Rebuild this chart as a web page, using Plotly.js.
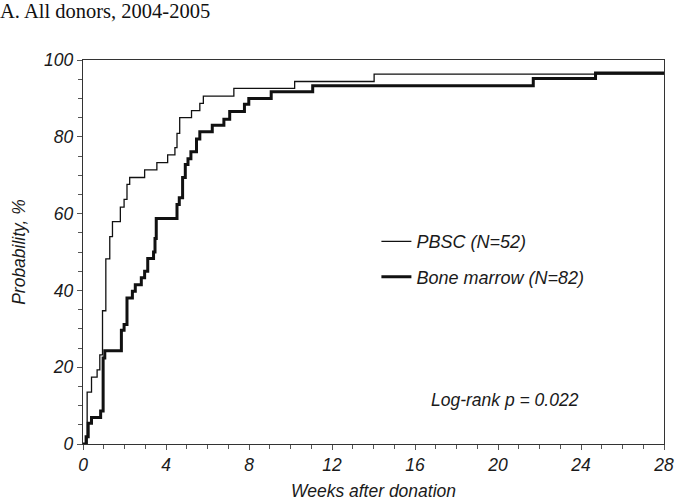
<!DOCTYPE html>
<html>
<head>
<meta charset="utf-8">
<script src="https://cdn.plot.ly/plotly-3.0.1.min.js"></script>
<style>html,body{margin:0;padding:0;background:#fff;}#chart{width:675px;height:503px;}</style>
</head>
<body>
<div id="chart"></div>
<script>
// Cumulative probability (%) by weeks after donation
var pbscWeeks = [0, 0.2, 0.41, 0.68, 0.81, 0.94, 1.1, 1.29, 1.42, 1.8, 1.98, 2.12, 2.25, 2.97, 3.56, 4.08, 4.43, 4.53, 4.66, 5.23, 5.63, 5.8, 7.27, 10.2, 14.03, 28];
var pbscProb  = [0, 13.5, 17.4, 19.3, 23.2, 34.7, 48.2, 54, 57.9, 61.7, 63.7, 67.6, 69.4, 71.4, 73.3, 75.3, 77.2, 80.9, 85, 86.8, 88.7, 90.6, 92.6, 94.4, 96.3, 96.3];

var bmWeeks = [0, 0.15, 0.25, 0.41, 0.85, 0.97, 1.05, 1.85, 1.98, 2.12, 2.38, 2.52, 2.81, 2.97, 3.12, 3.4, 3.47, 3.53, 4.53, 4.64, 4.8, 4.93, 5.06, 5.2, 5.47, 5.63, 6.23, 6.79, 7.07, 7.78, 7.99, 9.07, 11.07, 21.7, 24.7, 28];
var bmProb  = [0, 1.9, 5.4, 6.9, 8.6, 22.4, 24.3, 29.6, 31.1, 38, 39.8, 41.5, 43.3, 45, 48.3, 50, 53.5, 58.7, 62.4, 64.1, 69.4, 72.8, 74.3, 76.1, 79.4, 81.3, 83, 84.6, 86.6, 88.5, 90, 91.7, 93.3, 95.2, 96.6, 96.6];

var seriesNames = ["PBSC (N=52)", "Bone marrow (N=82)"];
var xTickVals = [0, 4, 8, 12, 16, 20, 24, 28];
var yTickVals = [0, 20, 40, 60, 80, 100];
var chartTitle = "A. All donors, 2004-2005";
var xTitle = "Weeks after donation";
var yTitle = "Probability, %";
var pvalueText = "Log-rank p = 0.022";

var sans = "Liberation Sans, Arial, sans-serif";
var italic = function(size){ return {family: sans, size: size, style: "italic", color: "#1a1a1a"}; };

var traces = [
  {x: pbscWeeks, y: pbscProb, name: seriesNames[0], mode: "lines", legendgroup: "a",
   line: {shape: "hv", color: "#111", width: 1.3}},
  {x: bmWeeks, y: bmProb, name: seriesNames[1], mode: "lines", legendgroup: "b",
   line: {shape: "hv", color: "#111", width: 3}}
];

var axisCommon = {
  showline: true, mirror: true, linecolor: "#333", linewidth: 1.3,
  showgrid: false, zeroline: false, ticks: "outside", ticklen: 5, tickwidth: 1, tickcolor: "#555",
  tickfont: italic(17.5), fixedrange: true, ticklabeloverflow: "allow"
};

var layout = {
  width: 675, height: 503,
  margin: {l: 83, r: 11, t: 60, b: 59},
  paper_bgcolor: "#fff", plot_bgcolor: "#fff",
  title: {text: chartTitle, x: 0.0, xref: "container", xanchor: "left", y: 0.979, yanchor: "middle",
          font: {family: "Liberation Serif, Times New Roman, serif", size: 20.5, color: "#111"}, pad: {l: 0, t: 0}},
  xaxis: Object.assign({}, axisCommon, {
    range: [0, 28], tickvals: xTickVals, ticktext: xTickVals.map(String),
    minor: {dtick: 1, tick0: 0, ticks: "outside", ticklen: 4, tickcolor: "#555"},
    title: {text: xTitle, font: italic(17.5), standoff: 10}
  }),
  yaxis: Object.assign({}, axisCommon, {
    range: [0, 100], tickvals: yTickVals, ticktext: yTickVals.map(String),
    minor: {dtick: 5, tick0: 0, ticks: "outside", ticklen: 4, tickcolor: "#555"},
    title: {text: yTitle, font: italic(17.5), standoff: 14}
  }),
  showlegend: true,
  legend: {x: 0.505, xanchor: "left", y: 0.575, yanchor: "top", bgcolor: "rgba(0,0,0,0)",
           font: italic(18), traceorder: "grouped", tracegroupgap: 9},
  annotations: [{text: pvalueText, xref: "paper", yref: "paper", x: 0.726, y: 0.115,
                 xanchor: "center", yanchor: "middle", showarrow: false, font: italic(17.5)}]
};

Plotly.newPlot("chart", traces, layout, {displayModeBar: false, staticPlot: true});
</script>
</body>
</html>
